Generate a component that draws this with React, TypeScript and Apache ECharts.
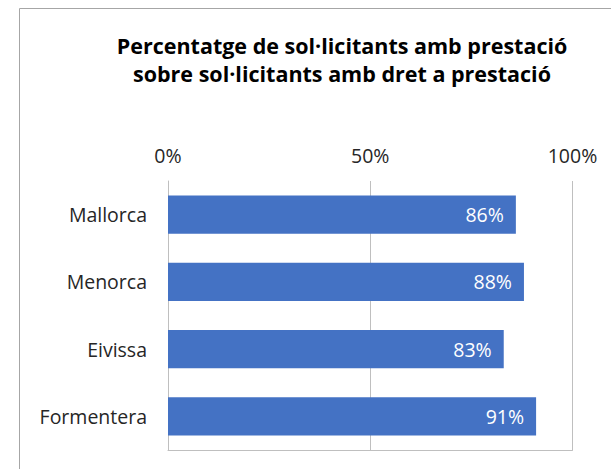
import React, { useEffect, useRef } from "react";
import * as echarts from "echarts";

const categories = ["Mallorca", "Menorca", "Eivissa", "Formentera"];
const values = [86, 88, 83, 91];
const titleLines = [
  "Percentatge de sol·licitants amb prestació",
  "sobre sol·licitants amb dret a prestació",
];

export default function App() {
  const ref = useRef<HTMLDivElement>(null);
  useEffect(() => {
    const chart = echarts.init(ref.current!, undefined, { renderer: "svg" });
    const font = "'Open Sans', 'Noto Sans', sans-serif";
    chart.setOption({
      animation: false,
      textStyle: { fontFamily: font },
      graphic: [
        {
          type: "rect",
          shape: { x: 19.5, y: 8.5, width: 700, height: 600 },
          style: { fill: "none", stroke: "#a6a6a6", lineWidth: 1 },
          silent: true,
        },
        {
          type: "text",
          x: 342,
          y: 45,
          style: {
            text: titleLines[0],
            font: `bold 21.5px ${font}`,
            fill: "#000000",
            textAlign: "center",
            textVerticalAlign: "middle",
          },
        },
        {
          type: "text",
          x: 342,
          y: 73,
          style: {
            text: titleLines[1],
            font: `bold 21.5px ${font}`,
            fill: "#000000",
            textAlign: "center",
            textVerticalAlign: "middle",
          },
        },
      ],
      grid: { left: 168, right: 38.5, top: 181, bottom: 19, containLabel: false },
      xAxis: [
        {
          type: "value",
          position: "top",
          min: 0,
          max: 100,
          interval: 50,
          axisLine: { show: false },
          axisTick: { show: false },
          axisLabel: {
            formatter: "{value}%",
            fontSize: 19.5,
            color: "#262626",
            margin: 16,
            fontFamily: font,
          },
          splitLine: { show: true, lineStyle: { color: "#bfbfbf", width: 1 } },
        },
        {
          type: "value",
          position: "bottom",
          min: 0,
          max: 100,
          axisLine: { show: true, lineStyle: { color: "#bfbfbf", width: 1 } },
          axisTick: { show: false },
          axisLabel: { show: false },
          splitLine: { show: false },
        },
      ],
      yAxis: {
        type: "category",
        data: categories,
        inverse: true,
        axisLine: { show: true, lineStyle: { color: "#bfbfbf", width: 1 } },
        axisTick: { show: false },
        axisLabel: {
          fontSize: 19.5,
          color: "#262626",
          margin: 21,
          fontFamily: font,
        },
      },
      series: [
        {
          type: "bar",
          data: values,
          xAxisIndex: 0,
          barCategoryGap: "43%",
          itemStyle: { color: "#4472C4" },
          label: {
            show: true,
            position: "insideRight",
            distance: 12,
            formatter: "{c}%",
            color: "#ffffff",
            fontSize: 19.5,
            fontFamily: font,
          },
        },
      ],
    });
    return () => chart.dispose();
  }, []);
  return <div ref={ref} style={{ width: 611, height: 469, position: "absolute", left: 0, top: 0 }} />;
}
